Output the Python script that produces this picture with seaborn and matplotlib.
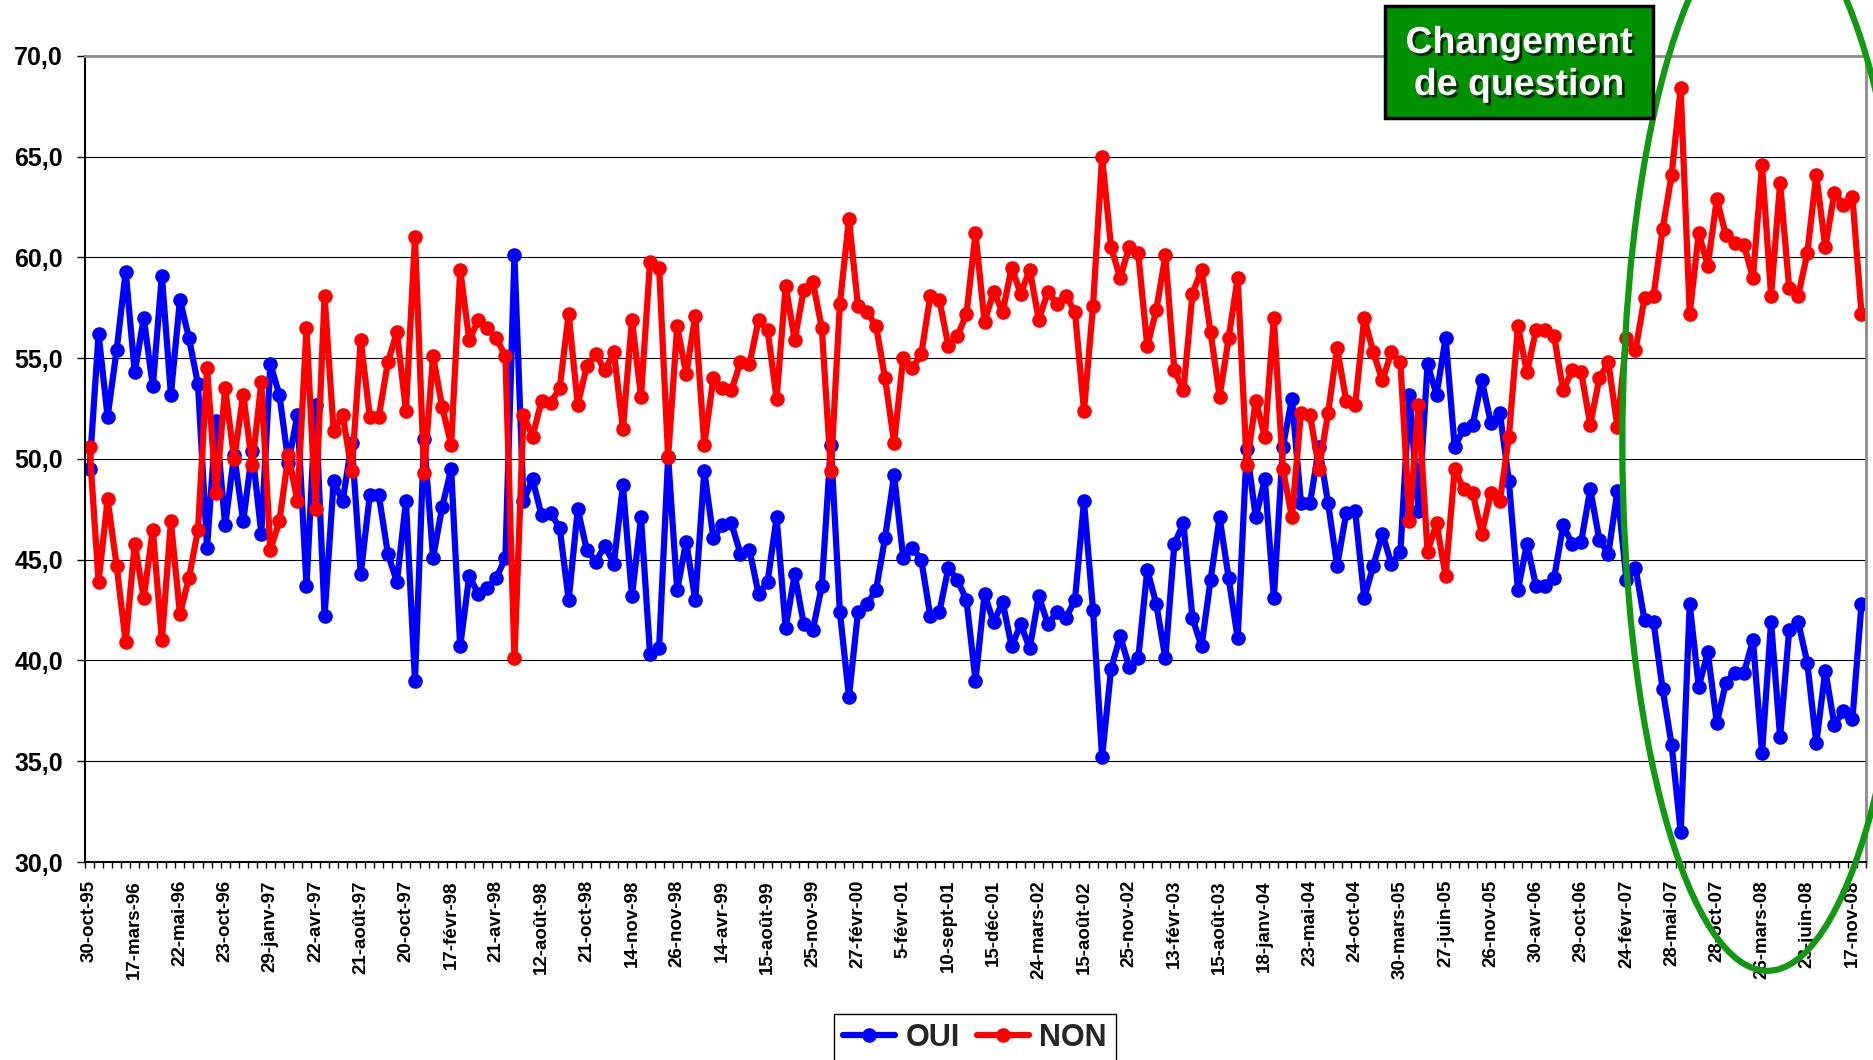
import numpy as np
import pandas as pd
import seaborn as sns
import matplotlib.pyplot as plt
import matplotlib.patheffects as pe
from matplotlib.patches import Ellipse, Rectangle
from matplotlib.lines import Line2D

# valeurs, un point par sondage
oui = [49.5, 56.2, 52.1, 55.4, 59.3, 54.3, 57.0, 53.6, 59.1, 53.2,
       57.9, 56.0, 53.7, 45.6, 51.9, 46.7, 50.2, 46.9, 50.4, 46.3,
       54.7, 53.2, 49.8, 52.2, 43.7, 52.7, 42.2, 48.9, 47.9, 50.8,
       44.3, 48.2, 48.2, 45.3, 43.9, 47.9, 39.0, 51.0, 45.1, 47.6,
       49.5, 40.7, 44.2, 43.3, 43.6, 44.1, 45.1, 60.1, 47.9, 49.0,
       47.2, 47.3, 46.6, 43.0, 47.5, 45.5, 44.9, 45.7, 44.8, 48.7,
       43.2, 47.1, 40.3, 40.6, 50.1, 43.5, 45.9, 43.0, 49.4, 46.1,
       46.7, 46.8, 45.3, 45.5, 43.3, 43.9, 47.1, 41.6, 44.3, 41.8,
       41.5, 43.7, 50.7, 42.4, 38.2, 42.4, 42.8, 43.5, 46.1, 49.2,
       45.1, 45.6, 45.0, 42.2, 42.4, 44.6, 44.0, 43.0, 39.0, 43.3,
       41.9, 42.9, 40.7, 41.8, 40.6, 43.2, 41.8, 42.4, 42.1, 43.0,
       47.9, 42.5, 35.2, 39.6, 41.2, 39.7, 40.1, 44.5, 42.8, 40.1,
       45.8, 46.8, 42.1, 40.7, 44.0, 47.1, 44.1, 41.1, 50.5, 47.1,
       49.0, 43.1, 50.6, 53.0, 47.8, 47.8, 50.6, 47.8, 44.7, 47.3,
       47.4, 43.1, 44.7, 46.3, 44.8, 45.4, 53.2, 47.4, 54.7, 53.2,
       56.0, 50.6, 51.5, 51.7, 53.9, 51.8, 52.3, 48.9, 43.5, 45.8,
       43.7, 43.7, 44.1, 46.7, 45.8, 45.9, 48.5, 46.0, 45.3, 48.4,
       44.0, 44.6, 42.0, 41.9, 38.6, 35.8, 31.5, 42.8, 38.7, 40.4,
       36.9, 38.9, 39.4, 39.4, 41.0, 35.4, 41.9, 36.2, 41.5, 41.9,
       39.9, 35.9, 39.5, 36.8, 37.5, 37.1, 42.8]

non = [50.6, 43.9, 48.0, 44.7, 40.9, 45.8, 43.1, 46.5, 41.0, 46.9,
       42.3, 44.1, 46.5, 54.5, 48.3, 53.5, 50.0, 53.2, 49.7, 53.8,
       45.5, 46.9, 50.2, 47.9, 56.5, 47.5, 58.1, 51.4, 52.2, 49.4,
       55.9, 52.1, 52.1, 54.8, 56.3, 52.4, 61.0, 49.3, 55.1, 52.6,
       50.7, 59.4, 55.9, 56.9, 56.5, 56.0, 55.1, 40.1, 52.2, 51.1,
       52.9, 52.8, 53.5, 57.2, 52.7, 54.6, 55.2, 54.4, 55.3, 51.5,
       56.9, 53.1, 59.8, 59.5, 50.1, 56.6, 54.2, 57.1, 50.7, 54.0,
       53.5, 53.4, 54.8, 54.7, 56.9, 56.4, 53.0, 58.6, 55.9, 58.4,
       58.8, 56.5, 49.4, 57.7, 61.9, 57.6, 57.3, 56.6, 54.0, 50.8,
       55.0, 54.5, 55.2, 58.1, 57.9, 55.6, 56.1, 57.2, 61.2, 56.8,
       58.3, 57.3, 59.5, 58.2, 59.4, 56.9, 58.3, 57.7, 58.1, 57.3,
       52.4, 57.6, 65.0, 60.5, 59.0, 60.5, 60.2, 55.6, 57.4, 60.1,
       54.4, 53.4, 58.2, 59.4, 56.3, 53.1, 56.0, 59.0, 49.7, 52.9,
       51.1, 57.0, 49.5, 47.1, 52.3, 52.2, 49.5, 52.3, 55.5, 52.9,
       52.7, 57.0, 55.3, 53.9, 55.3, 54.8, 46.9, 52.7, 45.4, 46.8,
       44.2, 49.5, 48.5, 48.3, 46.3, 48.3, 47.9, 51.1, 56.6, 54.3,
       56.4, 56.4, 56.1, 53.4, 54.4, 54.3, 51.7, 54.0, 54.8, 51.6,
       56.0, 55.4, 58.0, 58.1, 61.4, 64.1, 68.4, 57.2, 61.2, 59.6,
       62.9, 61.1, 60.7, 60.6, 59.0, 64.6, 58.1, 63.7, 58.5, 58.1,
       60.2, 64.1, 60.5, 63.2, 62.6, 63.0, 57.2]

# une date affichee tous les 5 points
dates = ['30-oct-95', '17-mars-96', '22-mai-96', '23-oct-96', '29-janv-97',
         '22-avr-97', '21-août-97', '20-oct-97', '17-févr-98', '21-avr-98',
         '12-août-98', '21-oct-98', '14-nov-98', '26-nov-98', '14-avr-99',
         '15-août-99', '25-nov-99', '27-févr-00', '5-févr-01', '10-sept-01',
         '15-déc-01', '24-mars-02', '15-août-02', '25-nov-02', '13-févr-03',
         '15-août-03', '18-janv-04', '23-mai-04', '24-oct-04', '30-mars-05',
         '27-juin-05', '26-nov-05', '30-avr-06', '29-oct-06', '24-févr-07',
         '28-mai-07', '28-oct-07', '26-mars-08', '23-juin-08', '17-nov-08']

n = len(oui)
df = pd.DataFrame({
    'point': list(range(n)) * 2,
    'valeur': oui + non,
    'serie': ['OUI'] * n + ['NON'] * n,
})
couleurs = {'OUI': '#0000FF', 'NON': '#FF0000'}

sns.set_theme(style='white')
plt.rcParams['font.family'] = ['Liberation Sans', 'DejaVu Sans']

W, H = 1873, 1060
fig = plt.figure(figsize=(W / 100, H / 100), dpi=100)
ax = fig.add_axes([85 / W, 1 - 862 / H, (1866 - 85) / W, (862 - 56) / H])

sns.lineplot(data=df, x='point', y='valeur', hue='serie', hue_order=['OUI', 'NON'],
             palette=couleurs, marker='o', markersize=10.5, markeredgewidth=0,
             linewidth=4.5, errorbar=None, legend=False, ax=ax)

# axes
ax.set_xlim(-0.5, n - 0.5)
ax.set_ylim(30, 70)
yt = np.arange(30, 70.1, 5)
ax.set_yticks(yt)
ax.set_yticklabels([f'{v:.1f}'.replace('.', ',') for v in yt], fontsize=18, fontweight='bold')
ax.set_xticks(range(0, n, 5))
ax.set_xticklabels(dates, rotation=90, fontsize=13.5, fontweight='bold')
ax.set_xticks(np.arange(-0.5, n, 1), minor=True)
ax.tick_params(axis='x', which='major', bottom=True, length=0, pad=13, colors='black')
ax.tick_params(axis='x', which='minor', bottom=True, length=4.5, width=1, color='black')
ax.tick_params(axis='y', left=True, length=6, width=1, pad=10, colors='black')
ax.set_xlabel('')
ax.set_ylabel('')
ax.yaxis.grid(True, color='black', linewidth=0.8)
ax.set_axisbelow(True)

for s in ['left', 'bottom']:
    ax.spines[s].set_color('black')
    ax.spines[s].set_linewidth(1.5)
for s in ['top', 'right']:
    ax.spines[s].set_color('#8c8c8c')
    ax.spines[s].set_linewidth(2)

# legende en bas
handles = [Line2D([], [], color=couleurs[k], lw=4.5, marker='o', markersize=10.5, markeredgewidth=0)
           for k in ['OUI', 'NON']]
ax.legend(handles, ['OUI', 'NON'], loc='upper center', ncol=2,
          bbox_to_anchor=(975 / W, 1 - 1014 / H), bbox_transform=fig.transFigure,
          frameon=True, fancybox=False, edgecolor='black', framealpha=1,
          prop={'weight': 'bold', 'size': 22}, handlelength=1.7,
          handletextpad=0.35, columnspacing=0.55, borderaxespad=0, borderpad=0.3)

# ellipse verte autour de la nouvelle question
ax.add_patch(Ellipse((185.6, 50.8), width=32.1, height=52.4, fill=False,
                     edgecolor='#119a11', linewidth=4.5, clip_on=False, zorder=10))

# cadre "Changement de question"
fig.add_artist(Rectangle((1385 / W, 1 - 118 / H), 268 / W, 112 / H, transform=fig.transFigure,
                         facecolor='#009200', edgecolor='black', linewidth=2.5))
ombre = [pe.withSimplePatchShadow(offset=(2, -2), shadow_rgbFace='black', alpha=0.7)]
fig.text(1519 / W, 1 - 43 / H, 'Changement', ha='center', va='center', color='white',
         fontsize=27, fontweight='bold', path_effects=ombre)
fig.text(1519 / W, 1 - 85 / H, 'de question', ha='center', va='center', color='white',
         fontsize=27, fontweight='bold', path_effects=ombre)

fig.savefig('out.png', dpi=100)
